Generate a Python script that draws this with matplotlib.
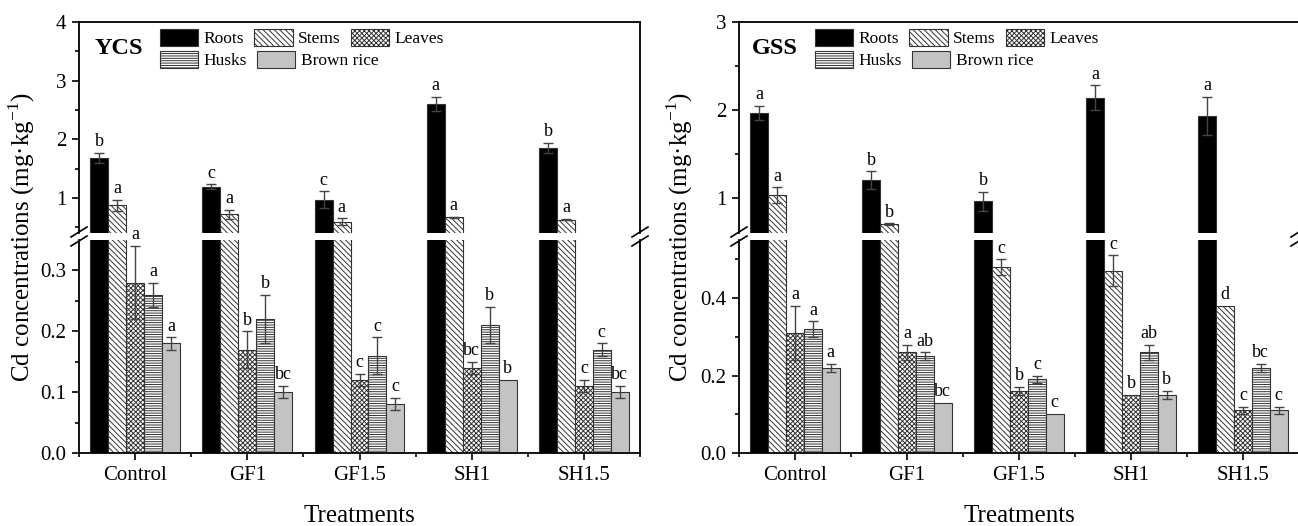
import matplotlib
matplotlib.use("Agg")
import matplotlib.pyplot as plt
from matplotlib.lines import Line2D
from matplotlib.patches import Patch
import numpy as np

plt.rcParams.update({
    "font.family": "Liberation Serif",
    "mathtext.fontset": "custom",
    "mathtext.rm": "Liberation Serif",
    "hatch.linewidth": 0.7,
    "axes.linewidth": 1.3,
})

treatments = ["Control", "GF1", "GF1.5", "SH1", "SH1.5"]
organs = ["Roots", "Stems", "Leaves", "Husks", "Brown rice"]

# YCS soil: rows = organs, cols = treatments
ycs_mean = [
    [1.68, 1.19, 0.97, 2.60, 1.85],
    [0.87, 0.72, 0.59, 0.67, 0.63],
    [0.28, 0.17, 0.12, 0.14, 0.11],
    [0.26, 0.22, 0.16, 0.21, 0.17],
    [0.18, 0.10, 0.08, 0.12, 0.10],
]
ycs_err = [
    [0.09, 0.04, 0.14, 0.12, 0.09],
    [0.10, 0.08, 0.06, 0.01, 0.01],
    [0.06, 0.03, 0.01, 0.01, 0.01],
    [0.02, 0.04, 0.03, 0.03, 0.01],
    [0.01, 0.01, 0.01, 0.00, 0.01],
]
ycs_letters = [
    ["b", "c", "c", "a", "b"],
    ["a", "a", "a", "a", "a"],
    ["a", "b", "c", "bc", "c"],
    ["a", "b", "c", "b", "c"],
    ["a", "bc", "c", "b", "bc"],
]

# GSS soil
gss_mean = [
    [1.97, 1.20, 0.96, 2.14, 1.93],
    [1.03, 0.70, 0.48, 0.47, 0.38],
    [0.31, 0.26, 0.16, 0.15, 0.11],
    [0.32, 0.25, 0.19, 0.26, 0.22],
    [0.22, 0.13, 0.10, 0.15, 0.11],
]
gss_err = [
    [0.08, 0.10, 0.11, 0.14, 0.22],
    [0.09, 0.01, 0.02, 0.04, 0.00],
    [0.07, 0.02, 0.01, 0.00, 0.01],
    [0.02, 0.01, 0.01, 0.02, 0.01],
    [0.01, 0.00, 0.00, 0.01, 0.01],
]
gss_letters = [
    ["a", "b", "b", "a", "a"],
    ["a", "b", "c", "c", "d"],
    ["a", "a", "b", "b", "c"],
    ["a", "ab", "c", "ab", "bc"],
    ["a", "bc", "c", "b", "c"],
]

colors = ["black", "white", "white", "white", "#c3c3c3"]
hatches = [None, "\\" * 6, "x" * 7, "-" * 7, None]
edge = "#333333"

W, H = 1298, 526
fig = plt.figure(figsize=(W / 100, H / 100), dpi=100)


def px_axes(x0, x1, ytop, ybot):
    return fig.add_axes([x0 / W, 1 - ybot / H, (x1 - x0) / W, (ybot - ytop) / H])


def break_mark(xp, yp):
    fig.add_artist(Line2D([(xp - 8) / W, (xp + 8) / W],
                          [1 - (yp + 5) / H, 1 - (yp - 5) / H],
                          transform=fig.transFigure, color="black", lw=1.2))


def draw_panel(x0, x1, name, mean, err, letters, up_lim, low_lim,
               up_major, up_minor, low_major, low_minor, ylab_x, leg_x, name_x):
    ax_up = px_axes(x0, x1, 22, 233)
    ax_lo = px_axes(x0, x1, 240, 453)
    x = np.arange(len(treatments))
    width = 0.16
    for ax in (ax_up, ax_lo):
        for i in range(len(organs)):
            xs = x + (i - 2) * width
            ax.bar(xs, mean[i], width, color=colors[i], edgecolor=edge,
                   hatch=hatches[i], linewidth=0.8, zorder=2)
            m = np.array(err[i]) > 0
            ax.errorbar(xs[m], np.array(mean[i])[m], yerr=np.array(err[i])[m],
                        fmt="none", ecolor="#444444", elinewidth=1.0,
                        capsize=3.5, capthick=1.0, zorder=3)
    for i in range(len(organs)):
        for j in range(len(treatments)):
            top = mean[i][j] + err[i][j]
            ax = ax_up if mean[i][j] > low_lim[1] else ax_lo
            ax.annotate(letters[i][j], (x[j] + (i - 2) * width, top),
                        xytext=(0, 2), textcoords="offset points",
                        ha="center", va="bottom", fontsize=13,
                        annotation_clip=False)

    ax_up.set_ylim(*up_lim)
    ax_lo.set_ylim(*low_lim)
    for ax in (ax_up, ax_lo):
        ax.set_xlim(-0.5, len(treatments) - 0.5)
        ax.tick_params(which="both", direction="out", width=1.2, labelsize=15, pad=4)
        ax.tick_params(which="major", length=5)
        ax.tick_params(which="minor", length=3)
    ax_up.spines["bottom"].set_visible(False)
    ax_lo.spines["top"].set_visible(False)
    ax_up.tick_params(axis="x", which="both", bottom=False, labelbottom=False)
    ax_up.set_yticks(up_major)
    ax_up.set_yticks(up_minor, minor=True)
    ax_lo.set_yticks(low_major)
    ax_lo.set_yticks(low_minor, minor=True)
    ax_lo.set_xticks(x, treatments)
    ax_lo.set_xticks(np.arange(-0.5, len(treatments), 1), minor=True)

    # legend: two free-flowing rows (Roots Stems Leaves / Husks Brown rice)
    handles = [Patch(facecolor=colors[i], edgecolor=edge, hatch=hatches[i],
                     linewidth=0.8) for i in range(len(organs))]
    leg_kw = dict(loc="upper left", frameon=False, fontsize=12.5,
                  handlelength=2.2, handleheight=1.1, columnspacing=0.6,
                  handletextpad=0.3, borderpad=0, borderaxespad=0)
    ax_x = (leg_x - x0) / (x1 - x0)
    leg1 = ax_up.legend(handles[:3], organs[:3], ncol=3,
                        bbox_to_anchor=(ax_x, (233 - 29) / 211), **leg_kw)
    ax_up.add_artist(leg1)
    ax_up.legend(handles[3:], organs[3:], ncol=2,
                 bbox_to_anchor=(ax_x, (233 - 51) / 211), **leg_kw)
    ax_up.text((name_x - x0) / (x1 - x0), (233 - 48) / 211, name,
               transform=ax_up.transAxes, fontsize=17.5, fontweight="bold",
               ha="left", va="center")

    fig.text(ylab_x / W, 1 - 237.5 / H, "Cd concentrations (mg·kg$^{-1}$)",
             rotation=90, ha="center", va="center", fontsize=18)
    fig.text((x0 + x1) / 2 / W, 1 - 516 / H, "Treatments",
             ha="center", va="center", fontsize=18)
    for xp in (x0, x1):
        break_mark(xp, 232)
        break_mark(xp, 241)


draw_panel(79, 640, "YCS", ycs_mean, ycs_err, ycs_letters,
           (0.4, 4), (0, 0.35), [1, 2, 3, 4], [0.5, 1.5, 2.5, 3.5],
           [0, 0.1, 0.2, 0.3], [0.05, 0.15, 0.25], 22, 160, 95)
draw_panel(739, 1299, "GSS", gss_mean, gss_err, gss_letters,
           (0.6, 3), (0, 0.55), [1, 2, 3], [1.5, 2.5],
           [0, 0.2, 0.4], [0.1, 0.3, 0.5], 680, 815, 752)

fig.savefig("out.png", dpi=100, facecolor="white")
